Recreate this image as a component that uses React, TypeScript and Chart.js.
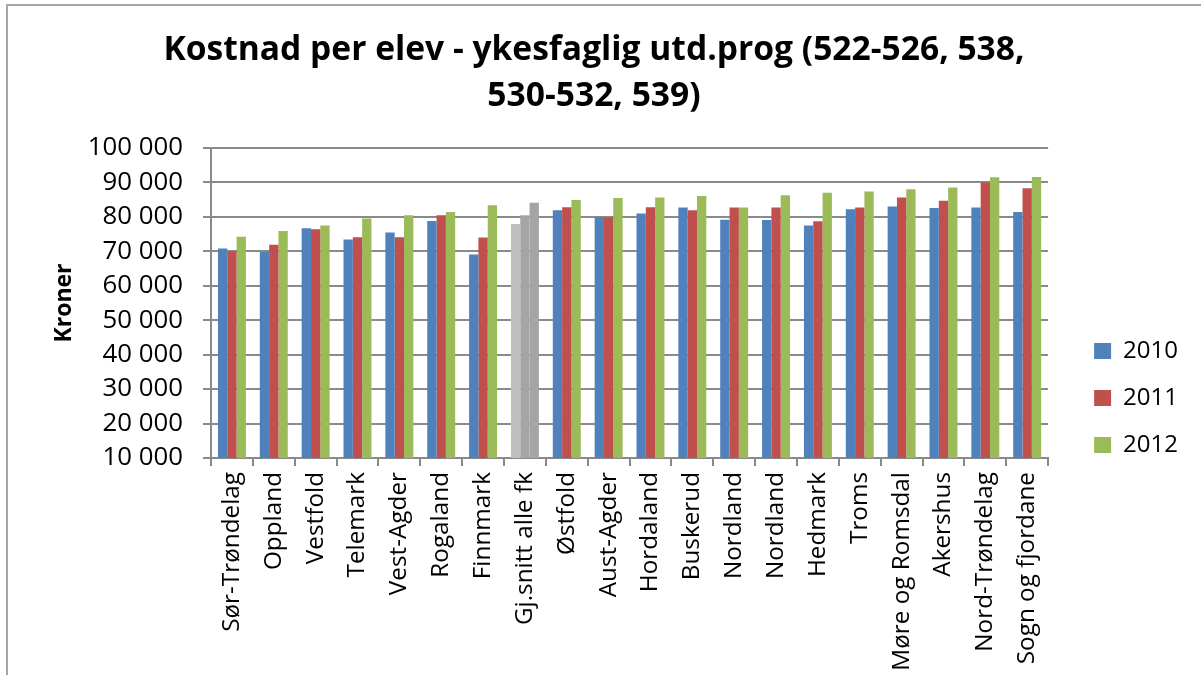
import React, { useEffect, useRef } from 'react';
import { Chart, registerables } from 'chart.js';

Chart.register(...registerables);

const titleLines = ['Kostnad per elev - ykesfaglig utd.prog (522-526, 538,', '530-532, 539)'];
const yAxisTitle = 'Kroner';

const categories = [
  'Sør-Trøndelag', 'Oppland', 'Vestfold', 'Telemark', 'Vest-Agder', 'Rogaland', 'Finnmark',
  'Gj.snitt alle fk', 'Østfold', 'Aust-Agder', 'Hordaland', 'Buskerud', 'Nordland', 'Nordland',
  'Hedmark', 'Troms', 'Møre og Romsdal', 'Akershus', 'Nord-Trøndelag', 'Sogn og fjordane',
];

const seriesNames = ['2010', '2011', '2012'];

const values2010 = [70800, 69800, 76700, 73400, 75500, 78800, 69100, 77900, 81900, 79900, 81000, 82700, 79200, 79100, 77500, 82200, 83000, 82600, 82700, 81400];
const values2011 = [70000, 71900, 76400, 74100, 74100, 80500, 74000, 80500, 82800, 79900, 82800, 81900, 82700, 82700, 78700, 82700, 85600, 84700, 90000, 88300];
const values2012 = [74200, 75900, 77500, 79500, 80500, 81400, 83400, 84100, 84900, 85500, 85600, 86100, 82700, 86300, 87000, 87400, 88000, 88500, 91500, 91600];

const seriesColors = ['#4F81BD', '#C0504D', '#9BBB59'];
const averageColors = ['#BFBFBF', '#A5A5A5', '#A5A5A5'];
const averageIndex = 7;

const yMin = 10000;
const yMax = 100000;
const yStep = 10000;

const fmt = (v: number) => String(v).replace(/\B(?=(\d{3})+(?!\d))/g, ' ');

const GRID = '#8A8A8A';
const FONT = "'Open Sans', 'Liberation Sans', sans-serif";

export default function App() {
  const ref = useRef<HTMLCanvasElement | null>(null);

  useEffect(() => {
    if (!ref.current) return;
    const allValues = [values2010, values2011, values2012];
    const chart = new Chart(ref.current, {
      type: 'bar',
      data: {
        labels: categories,
        datasets: allValues.map((vals, si) => ({
          label: seriesNames[si],
          data: vals,
          backgroundColor: (ctx: any) =>
            ctx.dataIndex === averageIndex ? averageColors[si] : seriesColors[si],
          borderWidth: 0,
          categoryPercentage: 0.668,
          barPercentage: 1.0,
          yAxisID: 'y',
        })),
      },
      options: {
        responsive: false,
        animation: false,
        devicePixelRatio: 1,
        layout: { padding: { top: 0, left: 0, right: 13, bottom: 0 } },
        font: { family: FONT },
        plugins: {
          tooltip: { enabled: false },
          title: {
            display: true,
            text: titleLines,
            color: '#000',
            font: { family: FONT, size: 33.6, weight: 'bold', lineHeight: 46 / 33.6 },
            padding: { top: 27, bottom: 29 },
          },
          legend: {
            display: true,
            position: 'right',
            align: 'start',
            title: { display: true, text: '', padding: { top: 301, bottom: 0 }, font: { size: 15, lineHeight: 1 } },
            labels: {
              boxWidth: 17,
              boxHeight: 16,
              padding: 23,
              color: '#000',
              font: { family: FONT, size: 24 },
            },
          },
        },
        scales: {
          x: {
            type: 'category',
            offset: true,
            afterFit: (s: any) => { s.height = 217; },
            grid: {
              display: true,
              offset: true,
              drawOnChartArea: false,
              drawTicks: true,
              tickLength: 8,
              color: GRID,
              tickColor: GRID,
              tickWidth: 2,
              lineWidth: 2,
            },
            border: { display: true, color: GRID, width: 2 },
            ticks: {
              autoSkip: false,
              maxRotation: 90,
              minRotation: 90,
              padding: 6,
              color: '#000',
              font: { family: FONT, size: 24.3 },
            },
          },
          y: {
            type: 'linear',
            position: 'left',
            min: yMin,
            max: yMax,
            afterFit: (s: any) => { s.width = 211; },
            ticks: {
              stepSize: yStep,
              padding: 20,
              color: '#000',
              font: { family: FONT, size: 25.8 },
              callback: (v: any) => fmt(Number(v)),
            },
            grid: {
              color: GRID,
              lineWidth: 2,
              tickLength: 8,
              drawTicks: true,
              tickColor: GRID,
              tickWidth: 2,
            },
            border: { display: true, color: GRID, width: 2 },
            title: {
              display: true,
              text: yAxisTitle,
              color: '#000',
              font: { family: FONT, size: 23, weight: 'bold', lineHeight: 1.2 },
              padding: { top: 51, bottom: 0 },
            },
          },
          spacer: {
            type: 'linear',
            position: 'right',
            display: true,
            afterFit: (s: any) => { s.width = 23; },
            grid: { display: false, drawTicks: false },
            ticks: { display: false },
            border: { display: false },
          },
        },
      },
    } as any);
    return () => chart.destroy();
  }, []);

  return (
    <div style={{ position: 'absolute', left: 0, top: 0, width: 1201, height: 675, overflow: 'hidden', background: '#fff' }}>
      <div
        style={{
          position: 'absolute',
          left: 6,
          top: 4,
          width: 1195,
          height: 671,
          boxSizing: 'border-box',
          borderTop: '2px solid #A6A6A6',
          borderLeft: '2px solid #A6A6A6',
        }}
      />
      <canvas ref={ref} width={1201} height={675} style={{ position: 'absolute', left: 0, top: 0, width: 1201, height: 675 }} />
    </div>
  );
}
